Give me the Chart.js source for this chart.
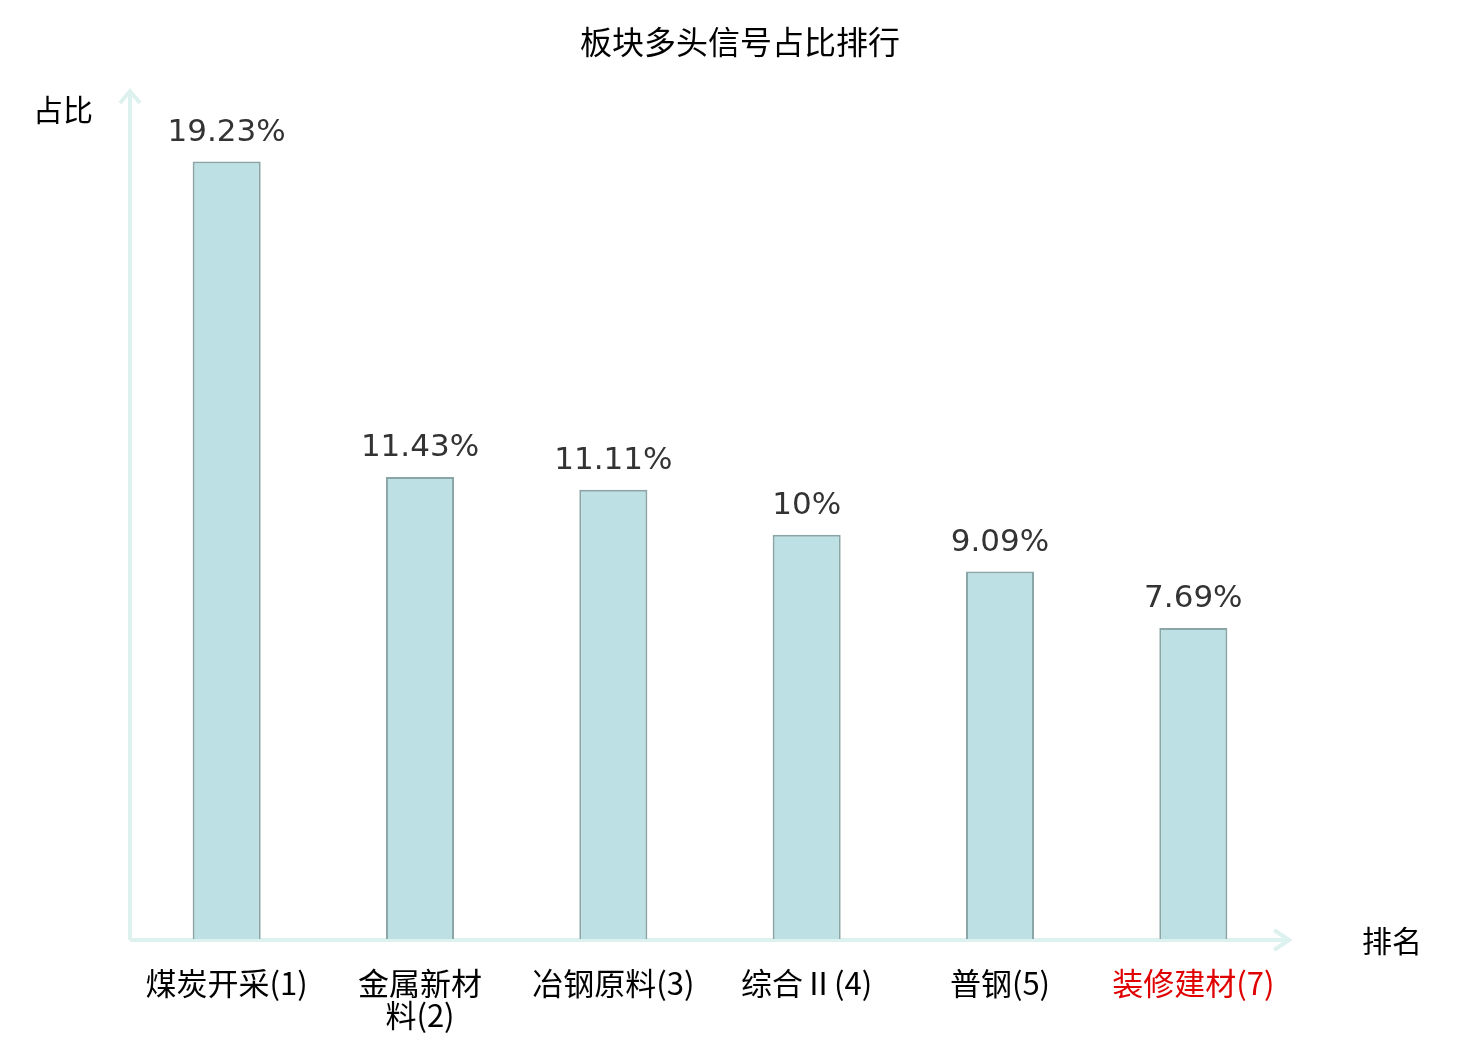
<!DOCTYPE html>
<html>
<head>
<meta charset="utf-8">
<script src="https://cdn.jsdelivr.net/npm/chart.js@4"></script>
<style>
  html, body { margin: 0; padding: 0; background: #fff; }
  #wrap { width: 1480px; height: 1040px; }
</style>
</head>
<body>
<div id="wrap"><canvas id="chart" width="1480" height="1040"></canvas></div>
<script>
const categories = [['煤炭开采(1)'], ['金属新材', '料(2)'], ['冶钢原料(3)'], ['综合Ⅱ(4)'], ['普钢(5)'], ['装修建材(7)']];
const shares = [19.23, 11.43, 11.11, 10, 9.09, 7.69];
const tickColors = ['#000', '#000', '#000', '#000', '#000', '#e00000'];
const chartTitle = '板块多头信号占比排行';

const CJK = '"Noto Sans CJK SC", sans-serif';
const AXIS = '#ddf1ee';

// axis lines with arrowheads, axis names and the title
const axisArrows = {
    id: 'axisArrows',
    beforeDatasetsDraw(chart) {
        const { ctx, chartArea: a } = chart;
        ctx.save();
        ctx.strokeStyle = AXIS;
        ctx.lineWidth = 4;
        ctx.lineJoin = 'miter';
        ctx.beginPath();
        ctx.moveTo(a.left, a.bottom + 1);
        ctx.lineTo(a.left, a.top + 1);
        ctx.moveTo(a.left - 10, a.top + 13);
        ctx.lineTo(a.left, a.top + 1);
        ctx.lineTo(a.left + 10, a.top + 13);
        ctx.moveTo(a.left, a.bottom + 1);
        ctx.lineTo(a.right - 1, a.bottom + 1);
        ctx.moveTo(a.right - 16, a.bottom - 9);
        ctx.lineTo(a.right - 1, a.bottom + 1);
        ctx.lineTo(a.right - 16, a.bottom + 11);
        ctx.stroke();
        ctx.fillStyle = '#000';
        ctx.textAlign = 'center';
        ctx.textBaseline = 'middle';
        ctx.font = '30px ' + CJK;
        ctx.fillText('占比', 63, a.top + 20);
        ctx.fillText('排名', a.right + 102, a.bottom + 2);
        ctx.font = '32px ' + CJK;
        ctx.fillText(chartTitle, chart.width / 2, 42);
        ctx.restore();
    }
};

const valueLabels = {
    id: 'valueLabels',
    afterDatasetsDraw(chart) {
        const { ctx } = chart;
        const meta = chart.getDatasetMeta(0);
        ctx.save();
        ctx.fillStyle = '#333';
        ctx.font = '31px DejaVu Sans';
        ctx.textAlign = 'center';
        ctx.textBaseline = 'middle';
        meta.data.forEach((bar, i) => {
            ctx.fillText(shares[i] + '%', bar.x, bar.y - 29);
        });
        ctx.restore();
    }
};

new Chart(document.getElementById('chart').getContext('2d'), {
    type: 'bar',
    data: {
        labels: categories,
        datasets: [{
            data: shares,
            backgroundColor: '#bce0e3',
            borderColor: '#8aa5a6',
            borderWidth: 2,
            categoryPercentage: 1,
            barPercentage: 0.352
        }]
    },
    options: {
        responsive: false,
        animation: false,
        devicePixelRatio: 1,
        layout: { padding: { left: 130, right: 190, top: 90, bottom: 0 } },
        plugins: {
            legend: { display: false },
            tooltip: { enabled: false },
            title: { display: false }
        },
        scales: {
            x: {
                grid: { display: false, drawTicks: false },
                border: { display: false },
                afterFit(scale) { scale.height = 101; },
                ticks: {
                    color: tickColors,
                    font: { family: CJK, size: 31, lineHeight: 1.03 },
                    maxRotation: 0,
                    autoSkip: false,
                    padding: 28
                }
            },
            y: {
                display: false,
                min: 0,
                max: 21.0
            }
        }
    },
    plugins: [axisArrows, valueLabels]
});
</script>
</body>
</html>
